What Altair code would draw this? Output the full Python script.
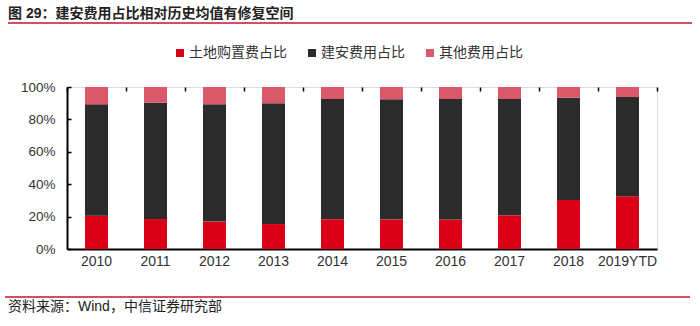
import altair as alt
import pandas as pd

years = ["2010", "2011", "2012", "2013", "2014", "2015", "2016", "2017", "2018", "2019YTD"]
land = [20.6, 18.5, 16.9, 15.4, 18.3, 18.3, 18.2, 20.8, 30.2, 32.5]
build = [68.7, 71.8, 72.4, 74.5, 74.3, 74.1, 74.4, 71.8, 63.2, 61.3]
other = [10.7, 9.7, 10.7, 10.1, 7.4, 7.6, 7.4, 7.4, 6.6, 6.2]
series = ["土地购置费占比", "建安费用占比", "其他费用占比"]
colors = ["#DA0017", "#2B2B2B", "#D9596B"]
y_ticks = [0, 0.2, 0.4, 0.6, 0.8, 1.0]
title_text = "图 29：建安费用占比相对历史均值有修复空间"
source_text = "资料来源：Wind，中信证券研究部"

rows = []
for i, yr in enumerate(years):
    for k, (s, vals) in enumerate(zip(series, [land, build, other])):
        rows.append({"year": yr, "series": s, "value": vals[i] / 100.0, "order": k})
df = pd.DataFrame(rows)

FONT = "Liberation Sans, Noto Sans CJK SC, sans-serif"
W, H = 590, 162
PL, PT = 67, 87
P_IN = 0.61

bars = alt.Chart(df).mark_bar().encode(
    x=alt.X(
        "year:N", sort=years, title=None,
        scale=alt.Scale(domain=years, paddingInner=P_IN, paddingOuter=P_IN / 2),
        axis=alt.Axis(
            orient="bottom", labelAngle=0, labelFont=FONT, labelFontSize=14,
            labelColor="#333333", labelPadding=5, ticks=False, domain=True,
            domainColor="#000000", domainWidth=2, grid=False,
        ),
    ),
    y=alt.Y(
        "value:Q", stack="zero", title=None,
        scale=alt.Scale(domain=[0, 1], nice=False),
        axis=alt.Axis(
            format=".0%", values=y_ticks, ticks=False, grid=True,
            gridDash=[4, 2000], gridColor="#000000", gridWidth=1.5,
            domainColor="#000000", domainWidth=2, labelFont=FONT,
            labelFontSize=13.5, labelColor="#333333", labelPadding=12,
        ),
    ),
    color=alt.Color(
        "series:N", scale=alt.Scale(domain=series, range=colors),
        legend=alt.Legend(
            title=None, orient="none", direction="horizontal",
            legendX=106, legendY=-41, symbolType="square", symbolSize=64,
            symbolStrokeWidth=0, labelFont=FONT, labelFontSize=14,
            labelColor="#333333", labelOffset=2, columnPadding=18,
            labelLimit=300, padding=0,
        ),
    ),
    order=alt.Order("order:Q"),
)

# category boundary tick marks (band extents of an unpadded band scale)
tick_layer = alt.Chart(df).mark_bar(opacity=0).encode(
    x=alt.X(
        "year:N", sort=years, title=None,
        scale=alt.Scale(domain=years, paddingInner=0, paddingOuter=0),
        axis=alt.Axis(
            orient="bottom", labels=False, ticks=False, domain=False,
            grid=True, tickBand="extent", gridColor="#000000", gridWidth=1.5,
            gridDash=[0, 158, 4, 2000],
        ),
    ),
)

one = alt.Data(values=[{"a": 1}])

title_mark = alt.Chart(one).mark_text(
    align="left", baseline="middle", font=FONT, fontSize=14, fontWeight="bold",
    color="#222222",
).encode(x=alt.value(8 - PL), y=alt.value(14 - PT), text=alt.value(title_text))

title_rule = alt.Chart(one).mark_rule(color="#C8102E", strokeWidth=1.5).encode(
    x=alt.value(8 - PL), x2=alt.value(692 - PL), y=alt.value(23 - PT)
)

foot_rule = alt.Chart(one).mark_rule(color="#C8102E", strokeWidth=1.5).encode(
    x=alt.value(5 - PL), x2=alt.value(690 - PL), y=alt.value(297 - PT)
)

foot_mark = alt.Chart(one).mark_text(
    align="left", baseline="middle", font=FONT, fontSize=14, color="#222222",
).encode(x=alt.value(8 - PL), y=alt.value(307 - PT), text=alt.value(source_text))

chart = alt.layer(bars, tick_layer, title_mark, title_rule, foot_rule, foot_mark).resolve_scale(
    x="independent"
).resolve_axis(x="independent").properties(
    width=W, height=H,
    padding={"left": PL, "top": PT, "right": 700 - PL - W, "bottom": 326 - PT - H},
    autosize=alt.AutoSizeParams(type="none"),
).configure_view(stroke=None).configure(background="white")

chart.save("out.html", embed_options={"renderer": "svg", "actions": False})
